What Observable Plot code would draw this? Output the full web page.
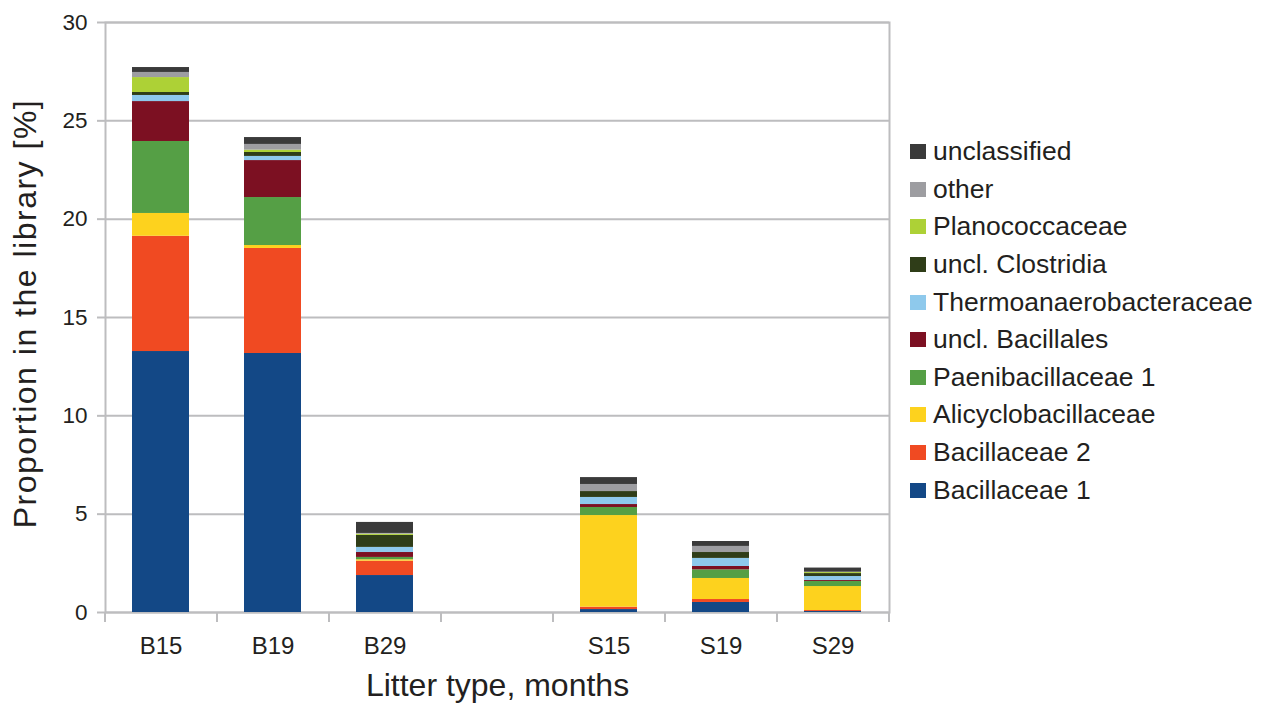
<!DOCTYPE html>
<html>
<head>
<meta charset="utf-8">
<script src="https://cdn.jsdelivr.net/npm/d3@7"></script>
<script src="https://cdn.jsdelivr.net/npm/@observablehq/plot@0.6"></script>
<style>
  html, body { margin: 0; padding: 0; background: #fff; }
  body { width: 1266px; height: 707px; position: relative; overflow: hidden; font-family: "Liberation Sans", Arial, sans-serif; }
  #legend { position: absolute; left: 910px; top: 133px; }
  .row { height: 37.6px; display: flex; align-items: center; font-size: 26.5px; color: #231f20; white-space: nowrap; }
  .sw { width: 16px; height: 15px; margin-right: 7px; flex: none; }
</style>
</head>
<body>
<div id="chart"></div>
<div id="legend"></div>
<script>
// x categories (empty slot between B and S groups)
const xLabels = ["B15", "B19", "B29", "", "S15", "S19", "S29"];
const samples = ["B15", "B19", "B29", "S15", "S19", "S29"];
const yTicks = [0, 5, 10, 15, 20, 25, 30];

// families, bottom to top of stack
const families = [
  "Bacillaceae 1", "Bacillaceae 2", "Alicyclobacillaceae", "Paenibacillaceae 1",
  "uncl. Bacillales", "Thermoanaerobacteraceae", "uncl. Clostridia",
  "Planococcaceae", "other", "unclassified"
];
const colors = [
  "#134886", "#f04a22", "#fdd21e", "#559f45",
  "#7c1022", "#8ec9ec", "#2f3d18",
  "#add136", "#9d9da1", "#3a3a3a"
];

// values per family, one per sample (B15, B19, B29, S15, S19, S29), in %
const bacillaceae1 = [13.27, 13.17, 1.88, 0.15, 0.51, 0.05];
const bacillaceae2 = [5.86, 5.34, 0.73, 0.12, 0.15, 0.05];
const alicyclobacillaceae = [1.16, 0.15, 0.07, 4.66, 1.07, 1.22];
const paenibacillaceae1 = [3.66, 2.44, 0.12, 0.41, 0.44, 0.26];
const unclBacillales = [2.03, 1.88, 0.25, 0.15, 0.17, 0.05];
const thermoanaerobacteraceae = [0.31, 0.21, 0.26, 0.36, 0.41, 0.20];
const unclClostridia = [0.15, 0.20, 0.61, 0.30, 0.30, 0.15];
const planococcaceae = [0.76, 0.12, 0.06, 0.00, 0.00, 0.05];
const other = [0.26, 0.29, 0.04, 0.36, 0.31, 0.02];
const unclassified = [0.25, 0.35, 0.56, 0.35, 0.25, 0.21];

const series = [
  bacillaceae1, bacillaceae2, alicyclobacillaceae, paenibacillaceae1,
  unclBacillales, thermoanaerobacteraceae, unclClostridia,
  planococcaceae, other, unclassified
];

const data = [];
families.forEach((f, i) => {
  samples.forEach((s, j) => data.push({ sample: s, family: f, value: series[i][j] }));
});

const W = 1266, H = 707;
const mL = 105, mR = 377, mT = 22, mB = 95;
const step = (W - mL - mR) / xLabels.length;
const grid = "#bdbdbf";
const ink = "#231f20";
const yTitle = "Proportion in the library [%]";

const chart = Plot.plot({
  width: W,
  height: H,
  marginLeft: mL,
  marginRight: mR,
  marginTop: mT,
  marginBottom: mB,
  style: { fontFamily: "'Liberation Sans', Arial, sans-serif", color: ink, background: "#fff", overflow: "visible" },
  x: { domain: xLabels, paddingInner: 0.49, paddingOuter: 0.245, axis: null },
  y: { domain: [0, 30], axis: null },
  color: { domain: families, range: colors },
  marks: [
    Plot.gridY(yTicks, { stroke: grid, strokeOpacity: 1, strokeWidth: 2 }),
    Plot.frame({ stroke: grid, strokeWidth: 2 }),
    Plot.barY(data, { x: "sample", y: "value", fill: "family", order: families }),
    Plot.axisY(yTicks, { tickSize: 8, tickPadding: 10, stroke: grid, strokeWidth: 2, fontSize: 22.5, label: null, fill: ink }),
    Plot.axisX(xLabels, { tickSize: 0, tickPadding: 24, fontSize: 24, label: null, fill: ink }),
    // category boundary ticks below the baseline
    Plot.ruleX(xLabels, { x: d => d, dx: -step / 2, y1: 0, y2: -0.51, stroke: grid, strokeWidth: 2 }),
    Plot.ruleX(xLabels.slice(-1), { x: d => d, dx: step / 2, y1: 0, y2: -0.51, stroke: grid, strokeWidth: 2 }),
    Plot.text(["Litter type, months"], { text: d => d, frameAnchor: "bottom", dy: 83, fontSize: 32, fill: ink }),
    Plot.text([yTitle], { text: d => d, frameAnchor: "left", textAnchor: "middle", dx: -80, dy: -4, rotate: -90, fontSize: 32, fill: ink })
  ]
});
d3.select(chart).selectAll("text").filter(function () { return this.textContent === yTitle; })
  .attr("letter-spacing", "1.5px");
document.getElementById("chart").appendChild(chart);

// legend, top to bottom
const legend = document.getElementById("legend");
families.slice().reverse().forEach((f) => {
  const i = families.indexOf(f);
  const row = document.createElement("div");
  row.className = "row";
  const sw = document.createElement("span");
  sw.className = "sw";
  sw.style.background = colors[i];
  const t = document.createElement("span");
  t.textContent = f;
  row.appendChild(sw);
  row.appendChild(t);
  legend.appendChild(row);
});
</script>
</body>
</html>
